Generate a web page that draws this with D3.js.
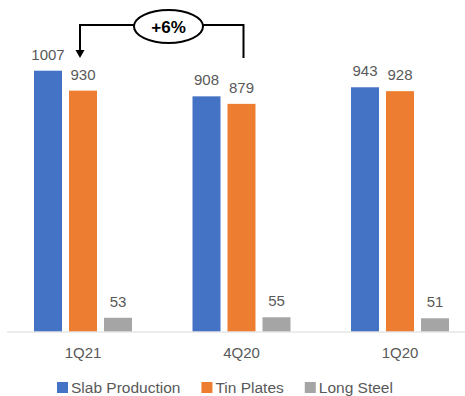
<!DOCTYPE html>
<html>
<head>
<meta charset="utf-8">
<script src="https://cdn.jsdelivr.net/npm/d3@7"></script>
<style>
  body { margin: 0; background: #fff; }
  text { font-family: "Liberation Sans", Arial, sans-serif; }
</style>
</head>
<body>
<div id="chart"></div>
<script>
// data
var categories = ["1Q21", "4Q20", "1Q20"];
var seriesNames = ["Slab Production", "Tin Plates", "Long Steel"];
var slab = [1007, 908, 943];
var tin = [930, 879, 928];
var longSteel = [53, 55, 51];
var colors = ["#4472C4", "#ED7D31", "#A5A5A5"];
var changeLabel = "+6%";

var svgWidth = 465;
var svgHeight = 396;

var svg = d3.select("#chart")
  .append("svg")
  .attr("width", svgWidth)
  .attr("height", svgHeight);

var rows = categories.map(function(c, i) {
  return { cat: c, values: [slab[i], tin[i], longSteel[i]] };
});

// scales
var x0 = d3.scaleBand()
  .domain(categories)
  .range([3.75, 479.25]);

var x1 = d3.scaleBand()
  .domain(seriesNames)
  .range([-49, 49])
  .paddingInner(0.2);

var y = d3.scaleLinear()
  .domain([0, 1280])
  .range([331.5, 0]);

var center = function(c) { return x0(c) + x0.bandwidth() / 2; };

// bars
var groups = svg.selectAll("g.group")
  .data(rows)
  .enter()
  .append("g")
  .attr("class", "group")
  .attr("transform", d => `translate(${center(d.cat)},0)`);

groups.selectAll("rect")
  .data(d => d.values.map((v, i) => ({ name: seriesNames[i], value: v, color: colors[i] })))
  .enter()
  .append("rect")
  .attr("x", d => x1(d.name))
  .attr("y", d => y(d.value))
  .attr("width", x1.bandwidth())
  .attr("height", d => y(0) - y(d.value))
  .attr("fill", d => d.color);

// data labels
groups.selectAll("text.val")
  .data(d => d.values.map((v, i) => ({ name: seriesNames[i], value: v })))
  .enter()
  .append("text")
  .attr("class", "val")
  .attr("x", d => x1(d.name) + x1.bandwidth() / 2)
  .attr("y", d => y(d.value) - 11)
  .attr("text-anchor", "middle")
  .attr("font-size", "15px")
  .attr("fill", "#595959")
  .text(d => d.value);

// x axis line
svg.append("line")
  .attr("x1", 7)
  .attr("x2", svgWidth)
  .attr("y1", y(0) + 0.5)
  .attr("y2", y(0) + 0.5)
  .attr("stroke", "#D9D9D9")
  .attr("stroke-width", 1);

// category labels
svg.selectAll("text.cat")
  .data(categories)
  .enter()
  .append("text")
  .attr("class", "cat")
  .attr("x", d => center(d))
  .attr("y", 358)
  .attr("text-anchor", "middle")
  .attr("font-size", "15px")
  .attr("fill", "#595959")
  .text(d => d);

// growth annotation
var leftX = center(categories[0]) - 3;
var rightX = center(categories[1]) + 2;
var ell = { cx: 168.5, cy: 26.5, rx: 34.5, ry: 16.5 };

svg.append("path")
  .attr("d", `M${ell.cx - ell.rx},25 H${leftX} V51`)
  .attr("fill", "none")
  .attr("stroke", "#000")
  .attr("stroke-width", 2);

svg.append("path")
  .attr("d", `M${leftX - 4.5},50 L${leftX + 4.5},50 L${leftX},58 Z`)
  .attr("fill", "#000");

svg.append("path")
  .attr("d", `M${ell.cx + ell.rx},25 H${rightX} V58`)
  .attr("fill", "none")
  .attr("stroke", "#000")
  .attr("stroke-width", 2);

svg.append("ellipse")
  .attr("cx", ell.cx)
  .attr("cy", ell.cy)
  .attr("rx", ell.rx)
  .attr("ry", ell.ry)
  .attr("fill", "#fff")
  .attr("stroke", "#000")
  .attr("stroke-width", 2);

svg.append("text")
  .attr("x", ell.cx)
  .attr("y", ell.cy + 6)
  .attr("text-anchor", "middle")
  .attr("font-size", "17px")
  .attr("font-weight", "bold")
  .attr("fill", "#000")
  .text(changeLabel);

// legend
var legend = svg.append("g");
var lx = 57;
seriesNames.forEach(function(name, i) {
  legend.append("rect")
    .attr("x", lx)
    .attr("y", 382)
    .attr("width", 11)
    .attr("height", 11)
    .attr("fill", colors[i]);
  var t = legend.append("text")
    .attr("x", lx + 14)
    .attr("y", 392.5)
    .attr("font-size", "15.5px")
    .attr("fill", "#595959")
    .text(name);
  lx = lx + 14 + t.node().getComputedTextLength() + 21;
});
</script>
</body>
</html>
